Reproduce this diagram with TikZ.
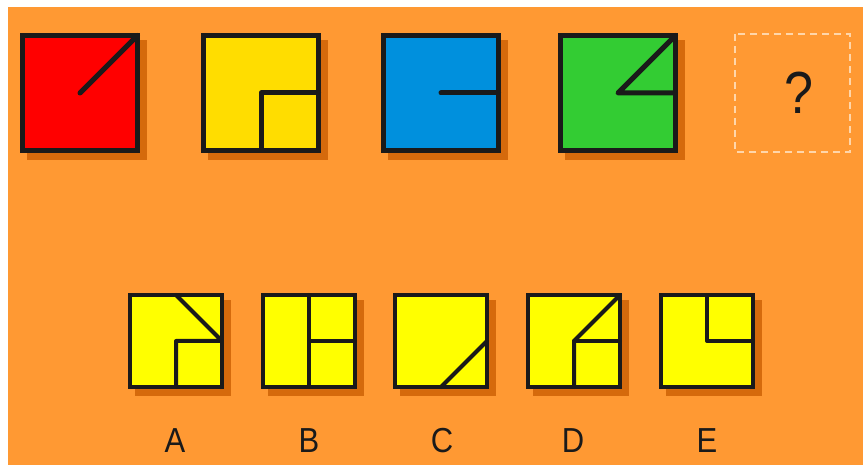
\documentclass[tikz,border=0pt]{standalone}
\usepackage{fontspec}
\setmainfont{Liberation Sans}
\usetikzlibrary{calc}
\definecolor{bgorange}{HTML}{FF9933}
\definecolor{shadoworange}{HTML}{D56A0C}
\definecolor{myred}{HTML}{FF0000}
\definecolor{mygold}{HTML}{FFDD00}
\definecolor{myblue}{HTML}{0090DD}
\definecolor{mygreen}{HTML}{33CC33}
\definecolor{myyellow}{HTML}{FFFF00}
\definecolor{myblack}{HTML}{1A1A1A}
\definecolor{mypeach}{HTML}{FFD6AA}

\begin{document}
\begin{tikzpicture}[
    x=1pt, y=-1pt, % one unit = one pixel of the reference, y pointing down
    label text/.style={font=\fontsize{31}{31}\selectfont, text=myblack, inner sep=0pt, yscale=1.12},
    inner line/.style={draw=myblack, line cap=round, line join=round},
    dashed box/.style={draw=mypeach, line width=1.5pt, dash pattern=on 7pt off 5pt}
]

    % --- 1. CANVAS ---
    \useasboundingbox (0,0) rectangle (863,465);
    \fill[bgorange] (8,7) rectangle (863,465);

    % --- 2. SHARED VARIABLES ---
    \def\S{120} % size of a sequence tile
    \def\s{96}  % size of an answer tile
    \def\off{7} % shadow offset

    % --- 3. MACRO TO DRAW ONE TILE (size #1, fill #2) ---
    \def\drawTile#1#2{
        % Shadow
        \fill[shadoworange] (\off,\off) rectangle ++(#1,#1);
        % Square
        \filldraw[fill=#2, draw=myblack] (\lw/2,\lw/2) rectangle (#1-\lw/2,#1-\lw/2);
        % Reference points
        \coordinate (c)  at (#1/2,#1/2);
        \coordinate (tr) at (#1-\lw/2,\lw/2);
        \coordinate (t)  at (#1/2,\lw/2);
        \coordinate (r)  at (#1-\lw/2,#1/2);
        \coordinate (b)  at (#1/2,#1-\lw/2);
    }

    % ==========================================
    % TOP ROW: THE SEQUENCE
    % ==========================================
    \def\lw{5}

    \begin{scope}[shift={(20,33)}, line width=\lw pt]
        \drawTile{\S}{myred}
        \draw[inner line] (c) -- (tr);
    \end{scope}

    \begin{scope}[shift={(201,33)}, line width=\lw pt]
        \drawTile{\S}{mygold}
        \draw[inner line] (r) -- (c) -- (b);
    \end{scope}

    \begin{scope}[shift={(381,33)}, line width=\lw pt]
        \drawTile{\S}{myblue}
        \draw[inner line] (c) -- (r);
    \end{scope}

    \begin{scope}[shift={(558,33)}, line width=\lw pt]
        \drawTile{\S}{mygreen}
        \draw[inner line] (tr) -- (c) -- (r);
    \end{scope}

    % Missing tile
    \draw[dashed box] (735,34) rectangle (850,152);
    \node[label text, font=\fontsize{52}{52}\selectfont, yscale=1.02] (qmark) at (799,93) {?};

    % ==========================================
    % BOTTOM ROW: THE ANSWERS
    % ==========================================
    \def\lw{4}

    % A
    \begin{scope}[shift={(128,293)}, line width=\lw pt]
        \drawTile{\s}{myyellow}
        \draw[inner line] (t) -- (r) -- (c) -- (b);
    \end{scope}
    \node[label text] (labelA) at (175,441) {A};

    % B
    \begin{scope}[shift={(261,293)}, line width=\lw pt]
        \drawTile{\s}{myyellow}
        \draw[inner line] (t) -- (b);
        \draw[inner line] (c) -- (r);
    \end{scope}
    \node[label text] (labelB) at (309,441) {B};

    % C
    \begin{scope}[shift={(393,293)}, line width=\lw pt]
        \drawTile{\s}{myyellow}
        \draw[inner line] (b) -- (r);
    \end{scope}
    \node[label text] (labelC) at (442,441) {C};

    % D
    \begin{scope}[shift={(526,293)}, line width=\lw pt]
        \drawTile{\s}{myyellow}
        \draw[inner line] (b) -- (c) -- (tr);
        \draw[inner line] (c) -- (r);
    \end{scope}
    \node[label text] (labelD) at (573,441) {D};

    % E
    \begin{scope}[shift={(659,293)}, line width=\lw pt]
        \drawTile{\s}{myyellow}
        \draw[inner line] (t) -- (c) -- (r);
    \end{scope}
    \node[label text] (labelE) at (707,441) {E};

\end{tikzpicture}
\end{document}
